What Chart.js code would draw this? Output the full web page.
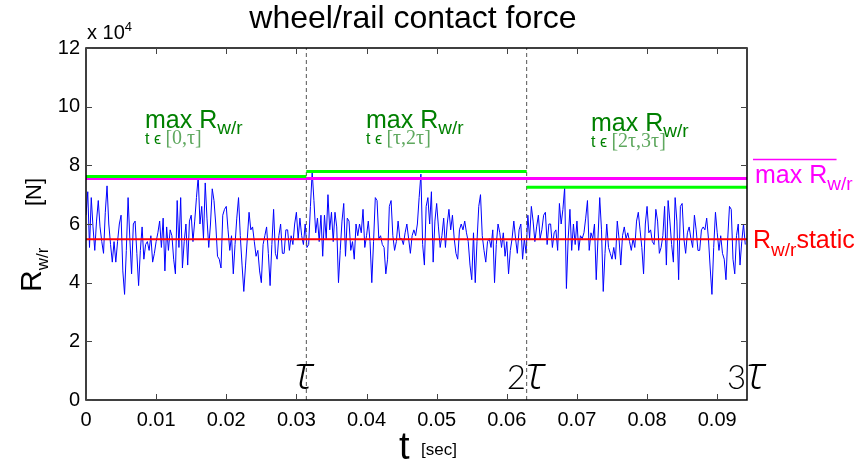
<!DOCTYPE html>
<html>
<head>
<meta charset="utf-8">
<script src="https://cdn.jsdelivr.net/npm/chart.js@4.4.1/dist/chart.umd.min.js"></script>
<style>
  html, body { margin: 0; padding: 0; background: #fff; }
  canvas { display: block; }
</style>
</head>
<body>
<canvas id="grafica" width="867" height="465"></canvas>
<script>
// time step of the sampled force signal [s] and period tau [s]
const dt = 0.00025
const tau = 0.0314159

// wheel/rail contact force, units of 1e4 N
const force = [
  6.3, 7.1, 5.2, 6.9, 5.9, 5.1, 6.1, 6.8, 5.9, 5.4,
  5.0, 6.4, 7.3, 6.0, 5.3, 4.7, 5.4, 4.7, 5.4, 6.0,
  6.3, 4.4, 3.6, 5.1, 6.9, 5.5, 4.3, 6.0, 6.1, 5.0,
  3.9, 5.1, 5.9, 4.8, 5.3, 5.4, 5.1, 5.6, 4.7, 5.0,
  5.4, 5.7, 6.1, 5.2, 6.2, 4.4, 5.9, 5.1, 5.8, 5.6,
  4.8, 4.3, 6.8, 5.2, 6.9, 4.5, 5.4, 6.0, 4.6, 6.1,
  6.3, 5.4, 6.1, 6.9, 7.62, 6.0, 6.6, 5.5, 7.4, 6.2,
  5.2, 6.0, 7.2, 6.8, 6.0, 4.9, 4.8, 4.5, 6.3, 6.5,
  6.6, 5.8, 5.1, 5.6, 4.3, 5.3, 6.2, 6.9, 5.6, 4.6,
  3.7, 4.6, 5.5, 6.4, 5.8, 5.9, 5.4, 4.9, 5.1, 4.4,
  4.0, 5.3, 5.6, 5.9, 5.0, 3.9, 5.3, 6.5, 5.0, 4.8,
  5.6, 6.0, 5.0, 5.0, 5.8, 5.8, 5.1, 5.6, 5.3, 6.0,
  6.4, 5.5, 6.2, 5.6, 5.3, 6.0, 5.2, 5.3, 6.6, 7.79,
  6.8, 5.7, 6.2, 5.4, 6.3, 4.9, 6.3, 5.5, 7.0, 5.8,
  6.4, 5.4, 6.4, 5.9, 4.0, 5.1, 6.1, 6.7, 4.9, 6.2,
  6.1, 5.1, 5.4, 4.8, 6.0, 5.6, 6.0, 5.7, 6.5, 5.2,
  5.6, 6.1, 5.4, 4.0, 5.4, 6.9, 6.8, 5.5, 5.6, 5.3,
  5.2, 4.3, 4.8, 6.6, 6.8, 5.6, 5.1, 5.4, 6.1, 5.5,
  5.5, 5.3, 5.7, 6.0, 5.5, 5.0, 5.6, 5.8, 5.6, 6.0,
  6.9, 7.7, 5.3, 4.6, 6.6, 6.9, 6.0, 7.1, 4.7, 6.1,
  6.7, 5.9, 5.2, 5.6, 6.2, 5.2, 6.0, 6.5, 5.8, 6.3,
  5.5, 5.0, 4.8, 5.8, 6.0, 5.8, 6.1, 5.7, 5.4, 4.6,
  4.1, 5.7, 4.0, 5.4, 6.6, 7.0, 5.6, 5.1, 4.7, 5.4,
  5.5, 5.2, 5.8, 4.0, 5.3, 6.0, 5.7, 5.2, 5.7, 4.9,
  5.4, 4.3, 5.1, 5.5, 6.1, 5.5, 5.0, 5.8, 6.0, 4.8,
  5.5, 5.0, 6.3, 5.5, 6.6, 6.1, 5.4, 5.9, 6.3, 5.5,
  5.8, 6.3, 6.4, 5.3, 6.0, 6.0, 5.2, 5.7, 5.8, 5.1,
  6.7, 6.0, 6.5, 7.25, 3.8, 5.5, 6.5, 5.1, 6.0, 5.3,
  6.1, 5.1, 5.6, 5.5, 5.7, 6.2, 6.8, 5.1, 5.7, 5.5,
  6.0, 4.1, 5.5, 6.9, 5.8, 3.7, 5.0, 6.0, 5.2, 5.0,
  4.8, 5.2, 4.8, 6.1, 5.5, 4.6, 5.6, 5.9, 5.5, 5.7,
  5.4, 5.1, 5.5, 5.2, 6.1, 6.4, 5.8, 5.2, 4.3, 6.0,
  6.6, 5.7, 5.8, 5.4, 5.3, 6.5, 6.1, 5.0, 5.2, 5.6,
  6.6, 4.6, 6.8, 6.1, 5.3, 4.7, 6.9, 6.1, 4.1, 6.6,
  6.7, 5.5, 5.0, 5.7, 5.9, 5.5, 5.2, 6.3, 5.8, 5.1,
  5.1, 5.8, 5.9, 5.8, 6.2, 5.5, 4.5, 3.6, 5.2, 6.4,
  5.7, 5.1, 5.6, 5.0, 4.8, 4.1, 5.5, 6.6, 6.5, 4.8,
  4.3, 5.6, 6.0, 4.6, 5.4, 6.0, 5.3
]

const staticForce = 5.48          // R_w/r static
const periodMax = [7.62, 7.79, 7.25]   // max over [0,tau], [tau,2tau], [2tau,3tau]
const meanMax = 7.55              // mean of the three maxima

const yTicks = [0, 2, 4, 6, 8, 10, 12]
const xTicks = [0, 0.01, 0.02, 0.03, 0.04, 0.05, 0.06, 0.07, 0.08, 0.09]

const SANS = 'Liberation Sans, Arial, sans-serif'
const SERIF = 'Liberation Serif, Times New Roman, serif'

// -------- datasets built from the arrays above
const signal = force.map((v, i) => ({ x: i * dt, y: v }))
const hline = (x0, x1, y) => [{ x: x0, y: y }, { x: x1, y: y }]

const datasets = [
  { data: hline(0, tau, periodMax[0]), borderColor: '#00ff00', borderWidth: 3 },
  { data: hline(tau, 2 * tau, periodMax[1]), borderColor: '#00ff00', borderWidth: 3 },
  { data: hline(2 * tau, 3 * tau, periodMax[2]), borderColor: '#00ff00', borderWidth: 3 },
  { data: hline(0, 3 * tau, meanMax), borderColor: '#ff00ff', borderWidth: 3 },
  { data: hline(0, 3 * tau, staticForce), borderColor: '#ff0000', borderWidth: 2 },
  { data: [{ x: tau, y: 0 }, { x: tau, y: 12 }], borderColor: '#555', borderWidth: 1, borderDash: [4, 3] },
  { data: [{ x: 2 * tau, y: 0 }, { x: 2 * tau, y: 12 }], borderColor: '#555', borderWidth: 1, borderDash: [4, 3] },
  { data: signal, borderColor: '#0000ff', borderWidth: 1 }
]

// rich text: list of [text, font, color, dy]
function rich(ctx, x, y, parts) {
  parts.forEach(p => {
    ctx.font = p[1]
    ctx.fillStyle = p[2]
    ctx.fillText(p[0], x, y + (p[3] || 0))
    x += ctx.measureText(p[0]).width
  })
  return x
}

const decor = {
  id: 'decor',
  afterDraw(chart) {
    const ctx = chart.ctx
    const xs = chart.scales.x, ys = chart.scales.y
    const L = xs.left, R = xs.right, T = ys.top, B = ys.bottom
    ctx.save()
    ctx.textBaseline = 'alphabetic'
    ctx.textAlign = 'left'

    // frame and inward ticks (all four sides)
    ctx.strokeStyle = '#000'
    ctx.lineWidth = 1.5
    ctx.strokeRect(L, T, R - L, B - T)
    ctx.lineWidth = 1
    ctx.strokeStyle = '#444'
    ctx.beginPath()
    xTicks.forEach(v => {
      const px = Math.round(xs.getPixelForValue(v)) + 0.5
      ctx.moveTo(px, B); ctx.lineTo(px, B - 6)
      ctx.moveTo(px, T); ctx.lineTo(px, T + 6)
    })
    yTicks.forEach(v => {
      const py = Math.round(ys.getPixelForValue(v)) + 0.5
      ctx.moveTo(L, py); ctx.lineTo(L + 6, py)
      ctx.moveTo(R, py); ctx.lineTo(R - 6, py)
    })
    ctx.stroke()

    // title
    ctx.fillStyle = '#000'
    ctx.font = '32px ' + SANS
    ctx.textAlign = 'center'
    ctx.fillText('wheel/rail contact force', 413, 28)
    ctx.textAlign = 'left'

    // exponent
    rich(ctx, 87, 39, [['x 10', '20px ' + SANS, '#000'], ['4', '13px ' + SANS, '#000', -8]])

    // y label (rotated)
    ctx.save()
    ctx.translate(41, 292)
    ctx.rotate(-Math.PI / 2)
    rich(ctx, 0, 0, [['R', '30px ' + SANS, '#000'], ['w/r', '17px ' + SANS, '#000', 7]])
    rich(ctx, 86, 0, [['[N]', '22px ' + SANS, '#000']])
    ctx.restore()

    // x label
    rich(ctx, 399, 459, [['t', '38px ' + SANS, '#000']])
    rich(ctx, 421, 455, [['[sec]', '17px ' + SANS, '#000']])

    // tau marks
    const tauFont = 'italic 300 46px "Open Sans", ' + SERIF
    const digFont = '300 33px Lato, ' + SANS
    ctx.fillStyle = '#000'
    ctx.font = tauFont
    ctx.fillText('τ', xs.getPixelForValue(tau) - 12, 389)
    rich(ctx, xs.getPixelForValue(2 * tau) - 20, 389, [['2', digFont, '#000'], ['τ', tauFont, '#000']])
    rich(ctx, xs.getPixelForValue(3 * tau) - 20, 389, [['3', digFont, '#000'], ['τ', tauFont, '#000']])

    // green labels for the per-period maxima
    const gMain = '25px ' + SANS, gSub = '19px ' + SANS, gT = '16px ' + SANS, gB = '20px ' + SERIF
    const dark = '#008000', light = '#5fa85f'
    const greenLabel = (x, y, range) => {
      rich(ctx, x, y, [['max R', gMain, dark], ['w/r', gSub, dark, 6]])
      rich(ctx, x, y + 16, [['t ϵ ', gT, dark], [range, gB, light]])
    }
    greenLabel(145, 128, '[0,τ]')
    greenLabel(366, 128, '[τ,2τ]')
    greenLabel(591, 131, '[2τ,3τ]')

    // right-hand labels
    const mEnd = rich(ctx, 755, 183, [['max R', '25px ' + SANS, '#ff00ff'], ['w/r', '19px ' + SANS, '#ff00ff', 7]])
    ctx.strokeStyle = '#ff00ff'
    ctx.lineWidth = 1.5
    ctx.beginPath()
    ctx.moveTo(753, 159.5); ctx.lineTo(mEnd - 16, 159.5)
    ctx.stroke()
    rich(ctx, 753, 248, [['R', '25px ' + SANS, '#ff0000'], ['w/r', '19px ' + SANS, '#ff0000', 8], ['static', '25px ' + SANS, '#ff0000']])
    ctx.restore()
  }
}

new Chart(document.getElementById('grafica'), {
  type: 'line',
  data: { datasets: datasets },
  options: {
    responsive: false,
    animation: false,
    devicePixelRatio: 1,
    parsing: false,
    layout: { padding: { left: 0, right: 120, top: 48, bottom: 0 } },
    elements: { point: { radius: 0 }, line: { tension: 0 } },
    plugins: { legend: { display: false }, tooltip: { enabled: false } },
    scales: {
      x: {
        type: 'linear', min: 0, max: 3 * tau,
        grid: { display: false, drawTicks: false }, border: { display: false },
        afterFit: s => { s.height = 65 },
        afterBuildTicks: s => { s.ticks = xTicks.map(v => ({ value: v })) },
        ticks: {
          padding: 8, color: '#000', maxRotation: 0, autoSkip: false,
          font: { family: SANS, size: 20 },
          callback: v => String(Number(v.toFixed(2)))
        }
      },
      y: {
        min: 0, max: 12,
        grid: { display: false, drawTicks: false }, border: { display: false },
        afterFit: s => { s.width = 86 },
        afterBuildTicks: s => { s.ticks = yTicks.map(v => ({ value: v })) },
        ticks: { padding: 6, color: '#000', font: { family: SANS, size: 20 } }
      }
    }
  },
  plugins: [decor]
});
</script>
</body>
</html>
